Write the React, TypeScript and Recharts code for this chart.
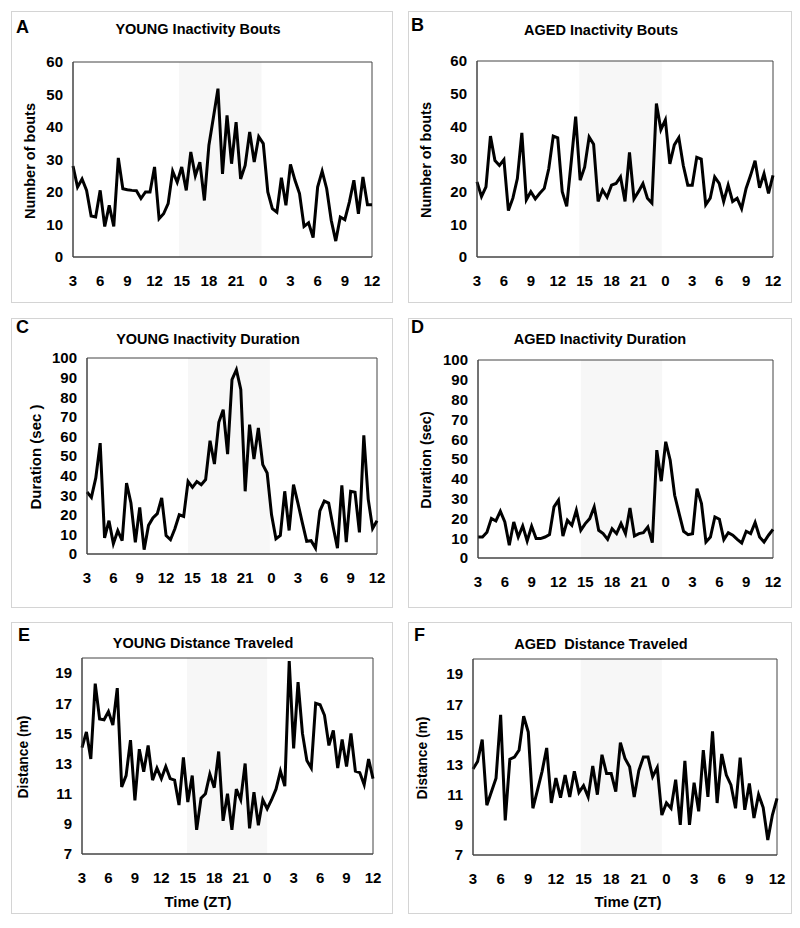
import React from 'react';
import { LineChart, Line, XAxis, YAxis, ReferenceArea } from 'recharts';

// half-hour samples from ZT3 (day 1) to ZT12 (day 2)
const youngBouts = [
  28, 21.5, 24, 20.5, 12.6, 12.3, 20.5, 9.4, 15.9, 9.4, 30.5, 21, 20.7, 20.5, 20.4, 18, 20, 20,
  27.7, 11.8, 13.3, 16.4, 26.4, 23, 27.7, 20.5, 32.3, 25, 29.2, 17.4, 34.4, 43, 51.8, 25.6, 43.6,
  28.7, 41.5, 24, 28.2, 38.5, 29.2, 37, 34.9, 20, 14.9, 13.8, 24.4, 15.9, 28.5, 23.6, 19.5, 9.4,
  10.5, 6, 21.5, 26.4, 21, 11.3, 4.9, 12.3, 11.5, 16.9, 23.6, 13.3, 24.6, 16.1, 16.1,
];
const agedBouts = [
  23, 18.5, 21.5, 37, 29.5, 28, 29.8, 14.2, 18, 24, 38, 17.5, 20, 17.8, 19.5, 21, 27, 37, 36.5,
  20, 15.5, 29, 43, 23.5, 27.5, 36.7, 34.5, 17, 20.5, 18.3, 22, 22.5, 24.5, 17, 32, 17.8, 20,
  22.5, 18, 16.5, 47, 39, 42, 28.5, 34.3, 36.5, 28, 22, 22, 30.5, 30, 16, 18, 24.5, 22.5, 17, 22,
  17, 18, 14.8, 21, 25, 29.5, 21.2, 25.5, 19.5, 25,
];
const youngDuration = [
  31.6, 28.9, 38.8, 56.6, 8.2, 17, 5.3, 11.9, 6.8, 36.2, 26, 6, 23.8, 2.2, 14.6, 18.4, 20.6, 28.6,
  9.4, 7.3, 12.9, 20, 19.2, 37, 34, 37, 35.4, 38, 57.8, 45.9, 67.2, 73.6, 51, 89, 94, 84, 32, 66,
  48.5, 64.3, 45.6, 41.3, 20, 7.8, 9.5, 32, 12, 35.4, 26, 16, 6.5, 6.8, 3, 22, 27, 26, 14, 3, 35,
  6, 32, 31.5, 11, 60.5, 28, 13, 17,
];
const agedDuration = [
  10.6, 10.6, 13, 20, 18.7, 23.6, 18.2, 6.4, 18.2, 10.6, 16.2, 8.6, 16, 9.8, 9.8, 10.6, 11.8,
  25.8, 29.2, 11.1, 19, 16.5, 24.1, 14, 17.4, 19.9, 25.8, 14, 12.3, 9.4, 14.8, 12.3, 17.4, 12.3,
  25.3, 11.1, 12.3, 12.8, 15.7, 7.8, 54.5, 38.8, 58.7, 49.4, 31.7, 22.4, 13.5, 11.8, 12.3, 35,
  27.5, 8.1, 10.6, 20.7, 19.6, 9.3, 12.8, 11.5, 9.4, 7.6, 13.5, 12.3, 17.9, 10.6, 8.1, 11.5, 14.5,
];
const youngDistance = [
  14.05, 15.1, 13.3, 18.3, 15.95, 15.9, 16.45, 15.55, 18, 11.45, 12.2, 14.55, 10.55, 13.95,
  12.45, 14.2, 11.9, 12.7, 12, 12.8, 12, 11.9, 10.25, 13.4, 10.45, 12.2, 8.6, 10.7, 11, 12.3,
  11.4, 13.8, 9.2, 11, 8.6, 11.3, 10.6, 13, 8.7, 11.1, 8.9, 10.6, 10, 10.6, 11.3, 12.5, 11.5,
  19.8, 14, 18.4, 15, 13.2, 12.7, 17, 16.9, 16.2, 14.2, 15.2, 12.7, 14.6, 12.8, 15, 12.5, 12.4,
  11.6, 13.3, 12,
];
const agedDistance = [
  12.7, 13.2, 14.65, 10.3, 11.2, 12.1, 16.3, 9.3, 13.35, 13.5, 13.95, 16.2, 15.15, 10.1, 11.3,
  12.55, 14.1, 10.45, 12.1, 10.8, 12.3, 10.85, 12.55, 11.15, 11.6, 10.85, 12.9, 11, 13.65, 12.4,
  12.4, 11.2, 14.45, 13.4, 12.85, 10.85, 12.6, 13.5, 13.5, 12.2, 12.8, 9.65, 10.45, 10.1, 12, 9,
  13.25, 9, 11.8, 9.9, 13.95, 10.85, 15.2, 10.45, 13.7, 12.3, 11.65, 10.1, 13.45, 10, 11.75,
  9.45, 11, 10.15, 8, 9.65, 10.75,
];

const xTicks = [0, 3, 6, 9, 12, 15, 18, 21, 24, 27, 30, 33];
const xTickLabels = ['3', '6', '9', '12', '15', '18', '21', '0', '3', '6', '9', '12'];
const boutTicks = [0, 10, 20, 30, 40, 50, 60];
const durationTicks = [0, 10, 20, 30, 40, 50, 60, 70, 80, 90, 100];
const distanceTicks = [7, 9, 11, 13, 15, 17, 19];

const FONT = 'Arial, "Liberation Sans", sans-serif';

const toRows = (vals: number[]) => vals.map((v, i) => ({ t: i / 2, v }));

const panels = [
  {
    letter: 'A', title: 'YOUNG Inactivity Bouts', values: youngBouts, yLabel: 'Number of bouts',
    yDomain: [0, 60], yTicks: boutTicks, box: { x: 11, y: 11, w: 382, h: 292 },
    plot: { l: 73, t: 62, r: 372, b: 257 }, shade: [11.7, 20.8],
    titleX: 197, titleY: 28, letterX: 15, letterY: 26, yLabelX: 29, yLabelSize: 14.5,
  },
  {
    letter: 'B', title: 'AGED Inactivity Bouts', values: agedBouts, yLabel: 'Number of bouts',
    yDomain: [0, 60], yTicks: boutTicks, box: { x: 408, y: 11, w: 384, h: 292 },
    plot: { l: 477, t: 61, r: 773, b: 257 }, shade: [11.4, 20.6],
    titleX: 600, titleY: 29, letterX: 410, letterY: 24, yLabelX: 425, yLabelSize: 14.5,
  },
  {
    letter: 'C', title: 'YOUNG Inactivity Duration', values: youngDuration, yLabel: 'Duration (sec )',
    yDomain: [0, 100], yTicks: durationTicks, box: { x: 11, y: 318, w: 382, h: 290 },
    plot: { l: 87, t: 358, r: 377, b: 554 }, shade: [11.5, 20.8],
    titleX: 207, titleY: 338, letterX: 15, letterY: 326, yLabelX: 34, yLabelSize: 15,
  },
  {
    letter: 'D', title: 'AGED Inactivity Duration', values: agedDuration, yLabel: 'Duration (sec)',
    yDomain: [0, 100], yTicks: durationTicks, box: { x: 408, y: 318, w: 384, h: 290 },
    plot: { l: 478, t: 360, r: 773, b: 558 }, shade: [11.5, 20.6],
    titleX: 599, titleY: 338, letterX: 410, letterY: 326, yLabelX: 425, yLabelSize: 14.5,
  },
  {
    letter: 'E', title: 'YOUNG Distance Traveled', values: youngDistance, yLabel: 'Distance (m)',
    yDomain: [7, 20], yTicks: distanceTicks, box: { x: 11, y: 622, w: 382, h: 292 },
    plot: { l: 82, t: 658, r: 373, b: 854 }, shade: [11.9, 21],
    titleX: 202, titleY: 642, letterX: 17, letterY: 634, yLabelX: 23, yLabelSize: 13.8,
    xLabelX: 197, xLabelY: 900,
  },
  {
    letter: 'F', title: 'AGED  Distance Traveled', values: agedDistance, yLabel: 'Distance (m)',
    yDomain: [7, 20], yTicks: distanceTicks, box: { x: 408, y: 622, w: 384, h: 292 },
    plot: { l: 473, t: 659, r: 777, b: 855 }, shade: [11.7, 20.5],
    titleX: 600, titleY: 643, letterX: 413, letterY: 634, yLabelX: 422, yLabelSize: 13.8,
    xLabelX: 627, xLabelY: 900,
  },
];

const tickStyle = { fontSize: 15, fontWeight: 'bold', fill: '#000', fontFamily: FONT };

function Panel({ p }: { p: any }) {
  const { box, plot } = p;
  const rows = toRows(p.values);
  const abs = (x: number, y: number, extra: any = {}) => ({
    position: 'absolute' as const,
    left: x - box.x,
    top: y - box.y,
    fontFamily: FONT,
    fontWeight: 'bold' as const,
    whiteSpace: 'pre' as const,
    color: '#000',
    ...extra,
  });
  return (
    <div style={{
      position: 'absolute', left: box.x, top: box.y, width: box.w, height: box.h,
      border: '1px solid #d4d4d4', boxSizing: 'border-box', background: '#fff',
    }}>
      <div style={{ position: 'absolute', left: -1, top: -1 }}>
        <LineChart
          width={box.w}
          height={box.h}
          data={rows}
          margin={{ top: plot.t - box.y, right: box.x + box.w - plot.r, left: 0, bottom: 0 }}
        >
          <XAxis
            dataKey="t"
            type="number"
            domain={[0, 33]}
            ticks={xTicks}
            interval={0}
            tickFormatter={(v: number) => xTickLabels[xTicks.indexOf(v)]}
            height={box.y + box.h - plot.b}
            tickLine={false}
            tickSize={0}
            tickMargin={18}
            axisLine={{ stroke: '#444' }}
            tick={tickStyle}
          />
          <YAxis
            type="number"
            domain={p.yDomain}
            ticks={p.yTicks}
            interval={0}
            width={plot.l - box.x}
            tickLine={false}
            tickSize={0}
            tickMargin={10}
            axisLine={{ stroke: '#444' }}
            tick={tickStyle}
          />
          <ReferenceArea x1={p.shade[0]} x2={p.shade[1]} y1={p.yDomain[0]} y2={p.yDomain[1]} fill="#f7f7f7" fillOpacity={1} stroke="none" />
          <ReferenceArea x1={0} x2={33} y1={p.yDomain[0]} y2={p.yDomain[1]} fill="none" stroke="#444" strokeWidth={1} />
          <Line
            type="linear"
            dataKey="v"
            stroke="#000"
            strokeWidth={3}
            dot={false}
            isAnimationActive={false}
          />
        </LineChart>
      </div>
      <div style={abs(p.letterX, p.letterY, { fontSize: 18, transform: 'translateY(-50%)', lineHeight: 1 })}>{p.letter}</div>
      <div style={abs(p.titleX, p.titleY, { fontSize: 14.5, transform: 'translate(-50%, -50%)', lineHeight: 1 })}>{p.title}</div>
      <div style={abs(p.yLabelX, (plot.t + plot.b) / 2, { fontSize: p.yLabelSize, transform: 'translate(-50%, -50%) rotate(-90deg)', lineHeight: 1 })}>{p.yLabel}</div>
      {p.xLabelX ? (
        <div style={abs(p.xLabelX, p.xLabelY, { fontSize: 15, transform: 'translate(-50%, -50%)', lineHeight: 1 })}>Time (ZT)</div>
      ) : null}
    </div>
  );
}

export default function App() {
  return (
    <div style={{ position: 'absolute', left: 0, top: 0, width: 800, height: 928, background: '#fff' }}>
      {panels.map((p) => (
        <Panel key={p.letter} p={p} />
      ))}
    </div>
  );
}
